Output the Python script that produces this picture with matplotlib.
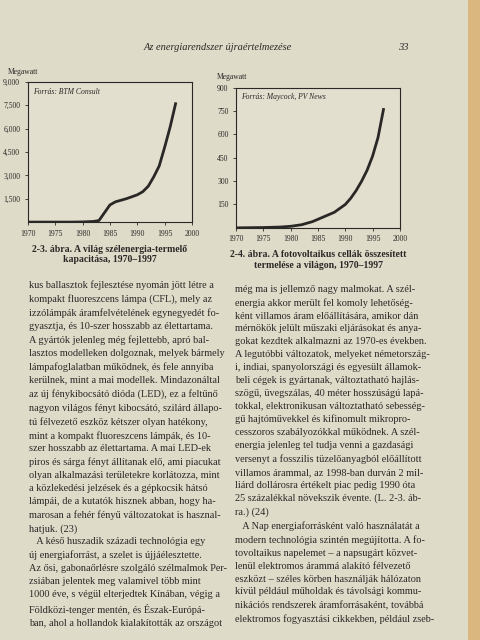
import matplotlib
matplotlib.use("Agg")
from matplotlib import pyplot as plt
from matplotlib.patches import Rectangle

# wind power capacity (MW), 1970-1997
wind_years = [1970, 1978, 1980, 1982, 1983, 1984, 1985, 1986, 1987, 1988, 1990, 1991, 1992, 1993, 1994, 1995, 1996, 1997]
wind_mw = [0, 0, 10, 40, 100, 600, 1100, 1300, 1400, 1500, 1750, 1950, 2300, 2900, 3600, 4800, 6100, 7600]

# photovoltaic production (MW), 1970-1997
pv_years = [1970, 1975, 1978, 1980, 1982, 1984, 1986, 1988, 1990, 1991, 1992, 1993, 1994, 1995, 1996, 1997]
pv_mw = [0, 2, 5, 10, 20, 40, 70, 100, 150, 190, 240, 300, 370, 460, 580, 760]

x_ticks = [1970, 1975, 1980, 1985, 1990, 1995, 2000]
wind_ticks = [1500, 3000, 4500, 6000, 7500, 9000]
pv_ticks = [150, 300, 450, 600, 750, 900]

left_text = """kus ballasztok fejlesztése nyomán jött létre a
kompakt fluoreszcens lámpa (CFL), mely az
izzólámpák áramfelvételének egynegyedét fo-
gyasztja, és 10-szer hosszabb az élettartama.
A gyártók jelenleg még fejlettebb, apró bal-
lasztos modelleken dolgoznak, melyek bármely
lámpafoglalatban működnek, és fele annyiba
kerülnek, mint a mai modellek. Mindazonáltal
az új fénykibocsátó dióda (LED), ez a feltűnő
nagyon világos fényt kibocsátó, szilárd állapo-
tú félvezető eszköz kétszer olyan hatékony,
mint a kompakt fluoreszcens lámpák, és 10-
szer hosszabb az élettartama. A mai LED-ek
piros és sárga fényt állítanak elő, ami piacukat
olyan alkalmazási területekre korlátozza, mint
a közlekedési jelzések és a gépkocsik hátsó
lámpái, de a kutatók hisznek abban, hogy ha-
marosan a fehér fényű változatokat is hasznal-
hatjuk. (23)
   A késő huszadik századi technológia egy
új energiaforrást, a szelet is újjáélesztette.
Az ősi, gabonaőrlésre szolgáló szélmalmok Per-
zsiában jelentek meg valamivel több mint
1000 éve, s végül elterjedtek Kínában, végig a
Földközi-tenger mentén, és Észak-Európá-
ban, ahol a hollandok kialakították az országot"""

right_text = """még ma is jellemző nagy malmokat. A szél-
energia akkor merült fel komoly lehetőség-
ként villamos áram előállítására, amikor dán
mérnökök jelült műszaki eljárásokat és anya-
gokat kezdtek alkalmazni az 1970-es években.
A legutóbbi változatok, melyeket németország-
i, indiai, spanyolországi és egyesült államok-
beli cégek is gyártanak, változtatható hajlás-
szögű, üvegszálas, 40 méter hosszúságú lapá-
tokkal, elektronikusan változtatható sebesség-
gű hajtóművekkel és kifinomult mikropro-
cesszoros szabályozókkal működnek. A szél-
energia jelenleg tel tudja venni a gazdasági
versenyt a fosszilis tüzelőanyagból előállított
villamos árammal, az 1998-ban durván 2 mil-
liárd dollárosra értékelt piac pedig 1990 óta
25 százalékkal növekszik évente. (L. 2-3. áb-
ra.) (24)
   A Nap energiaforrásként való használatát a
modern technológia szintén megújította. A fo-
tovoltaikus napelemet – a napsugárt közvet-
lenül elektromos árammá alakító félvezető
eszközt – széles körben használják hálózaton
kívül például műholdak és távolsági kommu-
nikációs rendszerek áramforrásaként, továbbá
elektromos fogyasztási cikkekben, például zseb-"""

fig = plt.figure(figsize=(4.8, 6.4), dpi=100)
fig.patch.set_facecolor("#dedbc9")
fig.add_artist(Rectangle((0.975, 0), 0.025, 1, transform=fig.transFigure,
                         facecolor="#d9b77e", edgecolor="none"))
serif = "Liberation Serif"
ink = "#2a2826"

fig.text(0.30, 0.922, "Az energiarendszer újraértelmezése", family=serif, style="italic",
         fontsize=7.5, color=ink)
fig.text(0.83, 0.922, "33", family=serif, style="italic", fontsize=7.5, color=ink)


def draw_chart(rect, years, values, ticks, ymax, source, caption):
    ax = fig.add_axes(rect)
    ax.set_facecolor("#e2dfcf")
    ax.plot(years, values, color=ink, linewidth=2)
    ax.set_xlim(1970, 2000)
    ax.set_ylim(0, ymax)
    ax.set_xticks(x_ticks)
    ax.set_yticks(ticks)
    ax.set_yticklabels([f"{t:,}" for t in ticks])
    ax.tick_params(labelsize=5.5, length=2, width=0.6, colors=ink)
    for lab in ax.get_xticklabels() + ax.get_yticklabels():
        lab.set_family(serif)
    for s in ax.spines.values():
        s.set_linewidth(0.8)
        s.set_color(ink)
    ax.text(0.03, 0.96, source, transform=ax.transAxes, family=serif, style="italic",
            fontsize=5.5, color=ink, va="top")
    ax.text(-0.12, 1.06, "Megawatt", transform=ax.transAxes, family=serif, fontsize=5.5,
            color=ink, ha="left")
    ax.text(0.5, -0.16, caption, transform=ax.transAxes, family=serif, fontsize=7,
            color=ink, ha="center", va="top", fontweight="bold", linespacing=1.2)
    return ax


draw_chart([0.058, 0.653, 0.342, 0.219], wind_years, wind_mw, wind_ticks, 9000,
           "Forrás: BTM Consult",
           "2-3. ábra. A világ szélenergia-termelő\nkapacitása, 1970–1997")
draw_chart([0.492, 0.644, 0.341, 0.219], pv_years, pv_mw, pv_ticks, 900,
           "Forrás: Maycock, PV News",
           "2-4. ábra. A fotovoltaikus cellák összesített\ntermelése a világon, 1970–1997")

fig.text(0.06, 0.562, left_text, family=serif, fontsize=7.4, color=ink, va="top",
         linespacing=1.55)
fig.text(0.49, 0.555, right_text, family=serif, fontsize=7.4, color=ink, va="top",
         linespacing=1.55)

fig.savefig("out.png", dpi=100, facecolor=fig.get_facecolor())
